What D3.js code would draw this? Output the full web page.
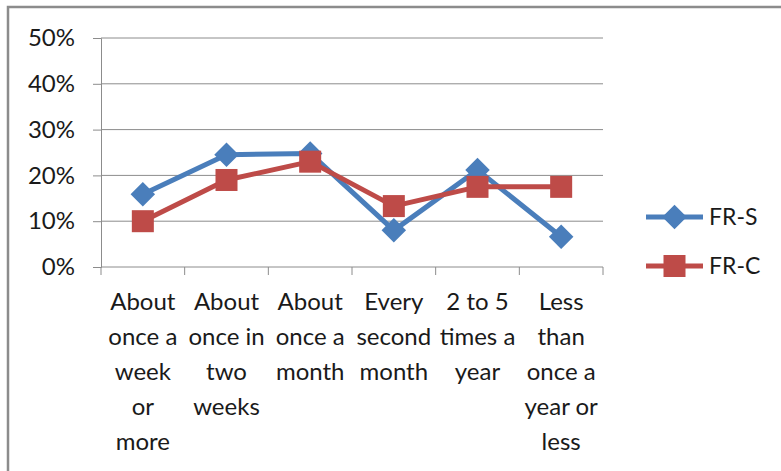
<!DOCTYPE html>
<html><head><meta charset="utf-8">
<script src="https://cdn.jsdelivr.net/npm/d3@7"></script>
<style>html,body{margin:0;padding:0;background:#fff;}svg{display:block;}</style>
</head><body>
<svg id="c" width="781" height="471"></svg>
<script>
const categories = [
  ["About","once a","week","or","more"],
  ["About","once in","two","weeks"],
  ["About","once a","month"],
  ["Every","second","month"],
  ["2 to 5","times a","year"],
  ["Less","than","once a","year or","less"]
];
const seriesNames = ["FR-S", "FR-C"];
const frS = [0.159, 0.245, 0.248, 0.080, 0.212, 0.066];
const frC = [0.100, 0.190, 0.230, 0.133, 0.175, 0.175];
const yTicks = [0, 0.1, 0.2, 0.3, 0.4, 0.5];
const colors = ["#4a7ebb", "#be4b48"];

const font = "Lato, 'Open Sans', sans-serif";
const txt = "#1a1a1a";
const svg = d3.select("#c");
const L = 101, R = 603, T = 38, B = 267;

// outer frame
svg.append("path").attr("d", "M8,471 V7 H781").attr("fill","none").attr("stroke","#8c8c8c").attr("stroke-width",2.5);

const x = d3.scaleBand().domain(d3.range(categories.length)).range([L, R]).paddingInner(0).paddingOuter(0);
const y = d3.scaleLinear().domain([0, 0.5]).range([B, T]);

// gridlines
svg.append("g").selectAll("line").data(yTicks.slice(1)).join("line")
  .attr("x1", L).attr("x2", R).attr("y1", d => y(d)).attr("y2", d => y(d))
  .attr("stroke", "#8c8c8c").attr("stroke-width", 1);

// y axis
const yAxis = svg.append("g").attr("transform", `translate(${L},0)`)
  .call(d3.axisLeft(y).tickValues(yTicks).tickFormat(d3.format(".0%")).tickSize(8).tickPadding(18));
yAxis.select(".domain").attr("stroke", "#8c8c8c");
yAxis.selectAll(".tick line").attr("stroke", "#8c8c8c");
yAxis.selectAll("text").attr("font-family", font).attr("font-size", 24).attr("fill", txt);

// x axis
const xAxis = svg.append("g").attr("transform", `translate(0,${B})`);
xAxis.append("line").attr("x1", L).attr("x2", R).attr("stroke", "#8c8c8c");
const bounds = d3.range(categories.length + 1).map(i => i < categories.length ? x(i) : x(i-1) + x.bandwidth());
xAxis.selectAll("line.t").data(bounds).join("line").attr("class","t")
  .attr("x1", d => d).attr("x2", d => d).attr("y1", 0).attr("y2", 8).attr("stroke", "#8c8c8c");
const lbl = xAxis.selectAll("text").data(categories).join("text")
  .attr("text-anchor", "middle").attr("font-family", font).attr("font-size", 24).attr("fill", txt)
  .attr("transform", (d,i) => `translate(${x(i) + x.bandwidth()/2},0)`);
lbl.selectAll("tspan").data(d => d).join("tspan")
  .attr("x", 0).attr("y", (d,i) => 43 + i*35).text(d => d);

// lines
const cx = i => x(i) + x.bandwidth()/2;
const line = d3.line().x((d,i) => cx(i)).y(d => y(d));
const data = [frS, frC];
data.forEach((s, k) => {
  svg.append("path").datum(s).attr("d", line).attr("fill","none")
    .attr("stroke", colors[k]).attr("stroke-width", 5).attr("stroke-linejoin","round");
});
// markers
const diamond = d3.symbol().type(d3.symbolSquare).size(300);
svg.append("g").selectAll("path").data(frS).join("path")
  .attr("d", diamond)
  .attr("transform", (d,i) => `translate(${cx(i)},${y(d)}) rotate(45)`)
  .attr("fill", colors[0]);
svg.append("g").selectAll("rect").data(frC).join("rect")
  .attr("x", (d,i) => cx(i) - 11).attr("y", d => y(d) - 11).attr("width", 22).attr("height", 22)
  .attr("fill", colors[1]);

// legend
const lg = svg.append("g");
seriesNames.forEach((n, k) => {
  const ly = [217, 266][k];
  lg.append("line").attr("x1", 646).attr("x2", 703).attr("y1", ly).attr("y2", ly)
    .attr("stroke", colors[k]).attr("stroke-width", 5);
  if (k === 0) {
    lg.append("path").attr("d", diamond)
      .attr("transform", `translate(674.5,${ly}) rotate(45)`).attr("fill", colors[0]);
  } else {
    lg.append("rect").attr("x", 663.5).attr("y", ly - 11).attr("width", 22).attr("height", 22).attr("fill", colors[1]);
  }
  lg.append("text").attr("x", 709).attr("y", ly).attr("dy", "0.36em")
    .attr("font-family", font).attr("font-size", 23).attr("fill", txt).text(n);
});
</script>
</body></html>
